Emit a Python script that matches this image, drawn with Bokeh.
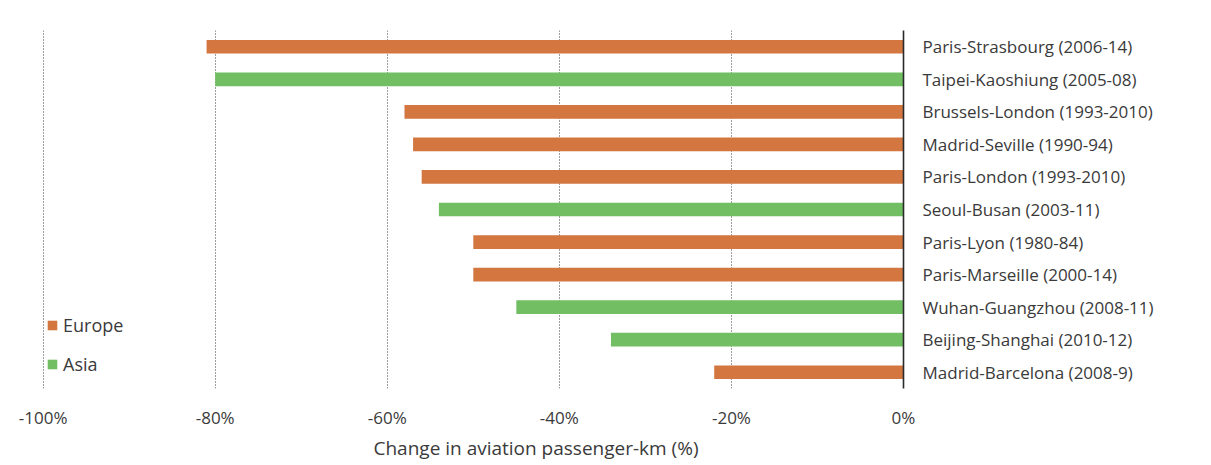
from bokeh.plotting import figure
from bokeh.models import (ColumnDataSource, FactorRange, Range1d, LinearAxis, CategoricalAxis,
                          Legend, LegendItem, Title, FixedTicker, CustomJSTickFormatter)
from bokeh.embed import file_html
from bokeh.resources import INLINE

routes = [
    "Paris-Strasbourg (2006-14)",
    "Taipei-Kaoshiung (2005-08)",
    "Brussels-London (1993-2010)",
    "Madrid-Seville (1990-94)",
    "Paris-London (1993-2010)",
    "Seoul-Busan (2003-11)",
    "Paris-Lyon (1980-84)",
    "Paris-Marseille (2000-14)",
    "Wuhan-Guangzhou (2008-11)",
    "Beijing-Shanghai (2010-12)",
    "Madrid-Barcelona (2008-9)",
]
changes = [-81, -80, -58, -57, -56, -54, -50, -50, -45, -34, -22]
regions = ["Europe", "Asia", "Europe", "Europe", "Europe", "Asia",
           "Europe", "Europe", "Asia", "Asia", "Europe"]
x_ticks = [-100, -80, -60, -40, -20, 0]
grid_ticks = [-100, -80, -60, -40, -20]
x_title = "Change in aviation passenger-km (%)"

ORANGE = "#D37640"
GREEN = "#72BF63"
colors = {"Europe": ORANGE, "Asia": GREEN}
TEXT = "#3a3a3a"
FONT = "Open Sans"

factors = list(reversed(routes))

p = figure(width=1205, height=462, output_backend="svg", toolbar_location=None,
           y_range=FactorRange(*factors, range_padding=0),
           x_range=Range1d(-101, 0),
           x_axis_location=None, y_axis_location=None,
           min_border_left=34, min_border_right=302,
           min_border_top=30, min_border_bottom=70)
p.outline_line_color = None
p.background_fill_color = "white"
p.border_fill_color = "white"

renderers = {}
for reg in ["Europe", "Asia"]:
    idx = [i for i, r in enumerate(regions) if r == reg]
    src = ColumnDataSource(dict(y=[routes[i] for i in idx], right=[changes[i] for i in idx]))
    renderers[reg] = p.hbar(y="y", left=0, right="right", height=0.42, source=src,
                            fill_color=colors[reg], line_color=None)

xaxis = LinearAxis(ticker=FixedTicker(ticks=x_ticks),
                   formatter=CustomJSTickFormatter(code="return tick + '%';"))
xaxis.axis_line_color = None
xaxis.major_tick_line_color = None
xaxis.minor_tick_line_color = None
xaxis.major_tick_out = 0
xaxis.major_tick_in = 0
xaxis.major_label_standoff = 17
xaxis.major_label_text_font = FONT
xaxis.major_label_text_font_size = "17px"
xaxis.major_label_text_color = TEXT
p.add_layout(xaxis, "below")

title = Title(text=x_title, align="left", offset=339, standoff=3,
              text_font=FONT, text_font_size="19px", text_font_style="normal",
              text_color=TEXT)
p.add_layout(title, "below")

yaxis = CategoricalAxis()
yaxis.axis_line_color = "#2a2a2a"
yaxis.axis_line_width = 1.6
yaxis.major_tick_line_color = None
yaxis.minor_tick_line_color = None
yaxis.major_tick_out = 0
yaxis.major_tick_in = 0
yaxis.major_label_standoff = 19
yaxis.major_label_text_font = FONT
yaxis.major_label_text_font_size = "17px"
yaxis.major_label_text_color = TEXT
p.add_layout(yaxis, "right")

p.xgrid.ticker = FixedTicker(ticks=grid_ticks)
p.xgrid.grid_line_color = "#3a3a3a"
p.xgrid.grid_line_dash = "1 2"
p.xgrid.grid_line_width = 1
p.ygrid.grid_line_color = None

legend = Legend(items=[LegendItem(label="Europe", renderers=[renderers["Europe"]]),
                       LegendItem(label="Asia", renderers=[renderers["Asia"]])],
                location=(12, 12), orientation="vertical")
legend.background_fill_alpha = 0
legend.border_line_color = None
legend.padding = 0
legend.margin = 0
legend.spacing = 15
legend.glyph_width = 12
legend.glyph_height = 12
legend.label_height = 24
legend.label_standoff = 5
legend.label_text_font = FONT
legend.label_text_font_size = "18px"
legend.label_text_color = TEXT
p.add_layout(legend, "center")

open("out.html", "w").write(file_html(p, INLINE))
